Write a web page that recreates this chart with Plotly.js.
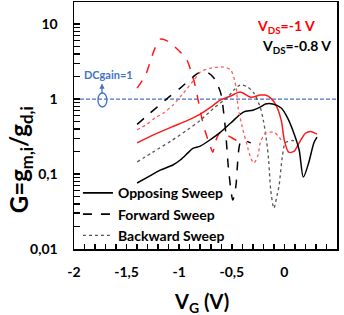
<!DOCTYPE html>
<html>
<head>
<meta charset="utf-8">
<script src="https://cdn.plot.ly/plotly-3.0.1.min.js"></script>
<style>html,body{margin:0;padding:0;background:#fff;}#chart{width:344px;height:315px;}</style>
</head>
<body>
<div id="chart"></div>
<script>
// Forward sweep, VDS = -1 V (red dashed)
var fwdRedX = [-1.40,-1.32,-1.28,-1.23,-1.18,-1.13,-1.06,-0.99,-0.94,-0.89,-0.85,-0.82,-0.78,-0.75,-0.72,-0.68,-0.66,-0.61,-0.56,-0.51,-0.45,-0.39];
var fwdRedY = [1.40,2.09,3.02,4.79,6.31,6.12,5.25,4.23,3.63,2.44,1.54,0.97,0.52,0.36,0.27,0.196,0.26,0.36,0.34,0.31,0.28,0.27];
// Forward sweep, VDS = -0.8 V (black dashed)
var fwdBlkX = [-1.40,-1.30,-1.21,-1.11,-0.99,-0.87,-0.82,-0.77,-0.72,-0.67,-0.63,-0.60,-0.58,-0.56,-0.53,-0.49,-0.46,-0.45,-0.42,-0.39,-0.32];
var fwdBlkY = [0.46,0.61,0.78,1.03,1.40,1.97,2.22,2.29,2.22,1.91,1.49,1.13,0.71,0.39,0.113,0.045,0.071,0.113,0.26,0.28,0.26];
// Opposing sweep, VDS = -1 V (red solid)
var oppRedX = [-1.40,-1.25,-1.08,-0.92,-0.80,-0.70,-0.61,-0.51,-0.42,-0.32,-0.23,-0.18,-0.13,-0.08,-0.03,0.00,0.04,0.09,0.14,0.20,0.25,0.31];
var oppRedY = [0.26,0.33,0.42,0.52,0.63,0.78,0.97,1.10,1.24,1.06,1.13,1.13,1.03,0.83,0.52,0.28,0.196,0.20,0.26,0.35,0.37,0.34];
// Opposing sweep, VDS = -0.8 V (black solid)
var oppBlkX = [-1.40,-1.30,-1.18,-1.06,-0.99,-0.92,-0.87,-0.80,-0.70,-0.61,-0.51,-0.39,-0.30,-0.23,-0.18,-0.11,-0.03,0.03,0.09,0.14,0.18,0.23,0.28,0.31];
var oppBlkY = [0.076,0.091,0.113,0.132,0.154,0.19,0.22,0.236,0.29,0.36,0.48,0.67,0.71,0.78,0.86,0.86,0.76,0.56,0.35,0.21,0.091,0.14,0.26,0.31];
// Backward sweep, VDS = -0.8 V (grey dotted)
var bwdBlkX = [-1.40,-1.25,-1.08,-0.92,-0.80,-0.67,-0.54,-0.48,-0.42,-0.35,-0.29,-0.23,-0.20,-0.17,-0.15,-0.13,-0.10,-0.07,-0.05,-0.02,0.01,0.08,0.13];
var bwdBlkY = [0.145,0.196,0.275,0.39,0.52,0.76,1.06,1.32,1.54,1.45,1.20,0.78,0.52,0.28,0.154,0.061,0.035,0.052,0.071,0.169,0.26,0.28,0.26];
// Backward sweep, VDS = -1 V (red dotted)
var bwdRedX = [-1.40,-1.32,-1.23,-1.15,-1.06,-0.96,-0.86,-0.80,-0.70,-0.58,-0.51,-0.46,-0.44,-0.40,-0.35,-0.32,-0.29,-0.25,-0.23,-0.18,-0.10,-0.05,-0.02];
var bwdRedY = [0.39,0.45,0.56,0.65,0.83,1.20,1.79,2.29,2.59,2.67,2.44,1.45,0.78,0.42,0.23,0.163,0.14,0.18,0.26,0.35,0.36,0.31,0.27];
// DC gain = 1 reference line
var dcX = [-2, 0.5];
var dcY = [1, 1];
// Tick labels (y: decades labelled, intermediate log ticks unlabelled)
var xTickVals = [-2,-1.9,-1.8,-1.7,-1.6,-1.5,-1.4,-1.3,-1.2,-1.1,-1,-0.9,-0.8,-0.7,-0.6,-0.5,-0.4,-0.3,-0.2,-0.1,0,0.1,0.2,0.3,0.4,0.5];
var xTickText = ['-2','','','','','-1,5','','','','','-1','','','','','-0,5','','','','','0','','','','','0,5'];
var yTickVals = [0.01,0.02,0.03,0.04,0.05,0.06,0.07,0.08,0.09,0.1,0.2,0.3,0.4,0.5,0.6,0.7,0.8,0.9,1,2,3,4,5,6,7,8,9,10,20];
var yTickText = ['0,01','','','','','','','','','0,1','','','','','','','','','1','','','','','','','','','10',''];
var legendNames = ['Opposing Sweep','Forward Sweep','Backward Sweep'];

var RED = '#ff1a1a', BLK = '#000000', GREY = '#555555', PINK = '#ff5a5a', BLUE = '#4472c4';
function tr(x, y, color, dash, width) {
  return {x: x, y: y, type: 'scatter', mode: 'lines', showlegend: false, hoverinfo: 'skip',
          line: {color: color, dash: dash, width: width, shape: 'spline', smoothing: 0.8}};
}
var data = [
  {x: dcX, y: dcY, type: 'scatter', mode: 'lines', showlegend: false, line: {color: BLUE, dash: '4px,2px', width: 1.2}},
  tr(fwdRedX, fwdRedY, RED, 'dash', 1.5),
  tr(fwdBlkX, fwdBlkY, BLK, 'dash', 1.5),
  tr(oppRedX, oppRedY, RED, 'solid', 1.5),
  tr(oppBlkX, oppBlkY, BLK, 'solid', 1.5),
  tr(bwdBlkX, bwdBlkY, GREY, 'dot', 1.3),
  tr(bwdRedX, bwdRedY, PINK, 'dot', 1.3),
  {x: [null], y: [null], type: 'scatter', mode: 'lines', name: '<b>' + legendNames[0] + '</b>', line: {color: BLK, dash: 'solid', width: 1.8}},
  {x: [null], y: [null], type: 'scatter', mode: 'lines', name: '<b>' + legendNames[1] + '</b>', line: {color: BLK, dash: 'dash', width: 1.8}},
  {x: [null], y: [null], type: 'scatter', mode: 'lines', name: '<b>' + legendNames[2] + '</b>', line: {color: GREY, dash: 'dot', width: 1.3}}
];

var FONT = 'Lato, "Open Sans", sans-serif';
var layout = {
  width: 344, height: 315,
  margin: {l: 74, r: 7, t: 2, b: 66},
  paper_bgcolor: '#fff', plot_bgcolor: '#fff',
  font: {family: FONT, color: '#000'},
  showlegend: true,
  legend: {x: 0.015, y: 0.29, xanchor: 'left', yanchor: 'top', bgcolor: 'rgba(0,0,0,0)',
           font: {family: FONT, size: 14, color: '#000'}, tracegroupgap: 0, itemwidth: 30},
  xaxis: {range: [-2, 0.5], tickmode: 'array', tickvals: xTickVals, ticktext: xTickText, ticks: 'inside', ticklen: 5, tickwidth: 1.5,
          tickcolor: '#000', showline: true, linecolor: '#000', linewidth: 1.5, mirror: true, layer: 'above traces',
          showgrid: false, zeroline: false, ticklabelstandoff: 10,
          tickfont: {family: FONT, size: 14, color: '#000', weight: 'bold'}},
  yaxis: {type: 'log', range: [-2, 1.295], tickmode: 'array', tickvals: yTickVals, ticktext: yTickText, ticks: 'inside', ticklen: 6, tickwidth: 1.5,
          tickcolor: '#000', showline: true, linecolor: '#000', linewidth: 1.5, mirror: true, layer: 'above traces',
          showgrid: false, zeroline: false, ticklabelstandoff: 12,
          tickfont: {family: FONT, size: 14, color: '#000', weight: 'bold'}},
  annotations: [
    {xref: 'paper', yref: 'paper', x: 0.485, y: -0.155, xanchor: 'center', yanchor: 'top', showarrow: false,
     text: '<b>V<sub>G</sub> (V)</b>', font: {family: FONT, size: 20, color: '#000'}},
    {xref: 'paper', yref: 'paper', x: -0.205, y: 0.36, xanchor: 'center', yanchor: 'middle', showarrow: false, textangle: -90,
     text: '<b>G=g<sub>m,i</sub>/g<sub>d,i</sub></b>', font: {family: FONT, size: 24, color: '#000'}},
    {xref: 'paper', yref: 'paper', x: 0.925, y: 0.9, xanchor: 'right', yanchor: 'middle', showarrow: false,
     text: '<b>V<sub>DS</sub>=-1 V</b>', font: {family: FONT, size: 14, color: '#ff0000'}},
    {xref: 'paper', yref: 'paper', x: 0.985, y: 0.82, xanchor: 'right', yanchor: 'middle', showarrow: false,
     text: '<b>V<sub>DS</sub>=-0.8 V</b>', font: {family: FONT, size: 14, color: '#000'}},
    {xref: 'paper', yref: 'paper', x: 0.03, y: 0.705, xanchor: 'left', yanchor: 'middle', showarrow: false,
     text: '<b>DCgain=1</b>', font: {family: FONT, size: 11, color: BLUE}},
    {xref: 'paper', yref: 'paper', x: 0.1065, y: 0.67, showarrow: true, text: '', ax: 0, ay: 12,
     arrowhead: 2, arrowsize: 0.8, arrowwidth: 1.3, arrowcolor: BLUE}
  ],
  shapes: [
    {type: 'circle', xref: 'paper', yref: 'paper', x0: 0.091, x1: 0.125, y0: 0.575, y1: 0.632,
     line: {color: BLUE, width: 1.3}}
  ]
};
Plotly.newPlot('chart', data, layout, {staticPlot: true, displayModeBar: false});
</script>
</body>
</html>
